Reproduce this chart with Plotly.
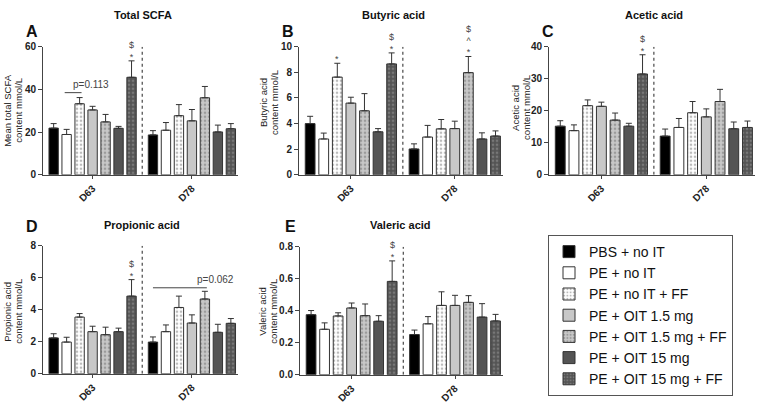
import numpy as np
import plotly.graph_objects as go

# groups / legend
GROUPS = ['PBS + no IT', 'PE + no IT', 'PE + no IT + FF', 'PE + OIT 1.5 mg',
          'PE + OIT 1.5 mg + FF', 'PE + OIT 15 mg', 'PE + OIT 15 mg + FF']
DAYS = ['D63', 'D78']

# mean values, D63 then D78 (mmol/L)
total_mean = [21.9, 18.9, 33.3, 30.4, 24.8, 21.8, 45.7,
              18.7, 20.9, 27.7, 25.3, 36.1, 20.1, 21.6]
total_err = [2.1, 2.4, 2.9, 1.7, 3.5, 0.9, 7.7,
             2.0, 3.6, 5.2, 5.3, 5.3, 3.2, 2.4]
butyric_mean = [4.00, 2.80, 7.63, 5.60, 5.00, 3.36, 8.66,
                2.02, 2.95, 3.59, 3.61, 7.98, 2.80, 3.03]
butyric_err = [0.57, 0.46, 1.08, 0.46, 1.34, 0.25, 0.86,
               0.40, 0.91, 0.73, 0.58, 1.26, 0.48, 0.40]
acetic_mean = [15.2, 13.8, 21.6, 21.4, 17.1, 15.2, 31.5,
               12.1, 14.8, 19.4, 18.1, 22.9, 14.4, 14.8]
acetic_err = [1.7, 1.8, 1.8, 1.3, 2.2, 0.9, 6.0,
              2.2, 2.8, 3.5, 2.5, 3.8, 2.1, 2.0]
propionic_mean = [2.24, 1.98, 3.54, 2.63, 2.44, 2.63, 4.85,
                  1.98, 2.63, 4.14, 3.17, 4.67, 2.59, 3.15]
propionic_err = [0.26, 0.30, 0.22, 0.34, 0.47, 0.22, 1.03,
                 0.32, 0.42, 0.71, 0.51, 0.48, 0.50, 0.30]
valeric_mean = [0.375, 0.284, 0.367, 0.417, 0.369, 0.334, 0.583,
                0.251, 0.318, 0.433, 0.433, 0.452, 0.360, 0.336]
valeric_err = [0.026, 0.040, 0.020, 0.031, 0.073, 0.035, 0.128,
               0.028, 0.045, 0.085, 0.063, 0.042, 0.084, 0.041]

# significance marks: (bar index, label)
total_sig = [(6, '$<br>*')]
butyric_sig = [(2, '*'), (6, '$<br>*'), (11, '$<br>^<br>*')]
acetic_sig = [(6, '$<br>*')]
propionic_sig = [(6, '$<br>*')]
valeric_sig = [(6, '$<br>*')]

FILL = ['#000000', '#ffffff', '#ffffff', '#c8c8c8', '#c8c8c8', '#545454', '#545454']
PATTERN = ['', '', '.', '', '.', '', '.']
PAT_FG = ['#000', '#000', '#777777', '#000', '#6e6e6e', '#000', '#9a9a9a']
LINE = '#333333'
FONT = 'Liberation Sans, Arial, sans-serif'

GAP = 7.65
xpos = np.concatenate([np.arange(7), np.arange(7) + GAP])

W, H = 760, 405


def dom_x(a, b):
    return [a / W, b / W]


def dom_y(top, bottom):
    return [1 - bottom / H, 1 - top / H]


panels = [
    dict(key='A', title='Total SCFA', ytitle=['Mean total SCFA', 'content mmol/L'],
         mean=total_mean, err=total_err, sig=total_sig, rng=60, dtick=20, fmt='',
         xd=(43, 238), yd=(42, 174), title_xy=(143, 9), lab_xy=(32, 26),
         yt_x=(8, 19), yt_y=108),
    dict(key='B', title='Butyric acid', ytitle=['Butyric acid', 'content mmol/L'],
         mean=butyric_mean, err=butyric_err, sig=butyric_sig, rng=10, dtick=2, fmt='',
         xd=(299, 503), yd=(42, 174), title_xy=(394, 9), lab_xy=(288, 26),
         yt_x=(263, 274), yt_y=100),
    dict(key='C', title='Acetic acid', ytitle=['Acetic acid', 'content mmol/L'],
         mean=acetic_mean, err=acetic_err, sig=acetic_sig, rng=40, dtick=10, fmt='',
         xd=(549, 755), yd=(42, 174), title_xy=(654, 9), lab_xy=(548, 26),
         yt_x=(516, 527), yt_y=105),
    dict(key='D', title='Propionic acid', ytitle=['Propionic acid', 'content mmol/L'],
         mean=propionic_mean, err=propionic_err, sig=propionic_sig, rng=8, dtick=2, fmt='',
         xd=(43, 238), yd=(247, 379), title_xy=(142, 226), lab_xy=(32, 227),
         yt_x=(8, 19), yt_y=315),
    dict(key='E', title='Valeric acid', ytitle=['Valeric acid', 'content mmol/L'],
         mean=valeric_mean, err=valeric_err, sig=valeric_sig, rng=0.8, dtick=0.2, fmt='.1f',
         xd=(300, 503), yd=(248, 380), title_xy=(400, 226), lab_xy=(290, 227),
         yt_x=(263, 274), yt_y=315),
]

fig = go.Figure()
annotations = []
shapes = []

for pi, p in enumerate(panels):
    n = '' if pi == 0 else str(pi + 1)
    xa, ya = 'x' + n, 'y' + n
    mean = np.array(p['mean'])
    err = np.array(p['err'])
    for g in range(7):
        idx = [g, g + 7]
        fig.add_trace(go.Bar(
            x=xpos[idx], y=mean[idx], name=GROUPS[g],
            xaxis=xa, yaxis=ya, width=0.72,
            marker=dict(color=FILL[g], line=dict(color=LINE, width=1),
                        pattern=dict(shape=PATTERN[g], fgcolor=PAT_FG[g],
                                     bgcolor=FILL[g], size=4, solidity=0.35)),
            error_y=dict(type='data', symmetric=False, array=err[idx],
                         arrayminus=[0, 0], color=LINE, thickness=1, width=3),
            showlegend=(pi == 0), legendgroup=GROUPS[g],
        ))

    fig.layout['xaxis' + n] = dict(
        domain=dom_x(*p['xd']), anchor=ya, range=[-0.82, 14.2],
        tickvals=[3, 3 + GAP], ticktext=DAYS, tickangle=-45,
        ticks='outside', ticklen=3, tickcolor='#444', showline=True,
        linecolor='#444', linewidth=1, showgrid=False, zeroline=False,
        tickfont=dict(family=FONT, size=10, color='#222', weight='bold'),
    )
    fig.layout['yaxis' + n] = dict(
        domain=dom_y(*p['yd']), anchor=xa, range=[0, p['rng']],
        dtick=p['dtick'], tickformat=p['fmt'], ticks='outside', ticklen=4,
        tickcolor='#444', showline=True, linecolor='#444', linewidth=1,
        showgrid=False, zeroline=False,
        tickfont=dict(family=FONT, size=10, color='#222', weight='bold'),
    )

    # dotted separator between days
    shapes.append(dict(type='line', xref=xa, yref=ya, x0=(6 + GAP) / 2, x1=(6 + GAP) / 2,
                       y0=0, y1=p['rng'], line=dict(color='#555', width=1.3, dash='dot')))

    for bi, txt in p['sig']:
        annotations.append(dict(xref=xa, yref=ya, x=xpos[bi], y=mean[bi] + err[bi],
                                text=txt, showarrow=False, yanchor='bottom', yshift=-3,
                                font=dict(family=FONT, size=9, color='#444')))

    tx, ty = p['title_xy']
    annotations.append(dict(xref='paper', yref='paper', x=tx / W, y=1 - ty / H,
                            xanchor='center', yanchor='middle',
                            text='<b>' + p['title'] + '</b>', showarrow=False,
                            font=dict(family=FONT, size=11, color='#111')))
    lx, ly = p['lab_xy']
    annotations.append(dict(xref='paper', yref='paper', x=lx / W, y=1 - ly / H,
                            xanchor='center', yanchor='middle',
                            text='<b>' + p['key'] + '</b>', showarrow=False,
                            font=dict(family=FONT, size=16, color='#111')))
    # two-line y title, lines set close together
    for line_txt, yx in zip(p['ytitle'], p['yt_x']):
        annotations.append(dict(xref='paper', yref='paper', x=yx / W, y=1 - p['yt_y'] / H,
                                xanchor='center', yanchor='middle',
                                text=line_txt, showarrow=False, textangle=-90,
                                font=dict(family=FONT, size=9.5, color='#222')))

# p-value brackets
annotations.append(dict(xref='x', yref='y', x=(xpos[1] + xpos[2]) / 2 + 1.35, y=38.5,
                        text='p=0.113', showarrow=False, yanchor='bottom', yshift=1,
                        font=dict(family=FONT, size=10, color='#444')))
shapes.append(dict(type='line', xref='x', yref='y', x0=xpos[1] - 0.15, x1=xpos[2] + 0.15,
                   y0=38.5, y1=38.5, line=dict(color='#444', width=1)))
annotations.append(dict(xref='x4', yref='y4', x=xpos[11] + 0.85, y=5.37,
                        text='p=0.062', showarrow=False, yanchor='bottom', yshift=1,
                        font=dict(family=FONT, size=10, color='#444')))
shapes.append(dict(type='line', xref='x4', yref='y4', x0=xpos[7], x1=xpos[11] + 0.15,
                   y0=5.37, y1=5.37, line=dict(color='#444', width=1)))

fig.update_layout(
    width=W, height=H, margin=dict(l=0, r=0, t=0, b=0),
    plot_bgcolor='white', paper_bgcolor='white', barmode='overlay',
    annotations=annotations, shapes=shapes,
    legend=dict(x=548 / W, y=1 - 236 / H, xanchor='left', yanchor='top',
                bordercolor='#555', borderwidth=1, bgcolor='white',
                font=dict(family=FONT, size=14, color='#111'),
                tracegroupgap=0, itemwidth=30),
)

# the page body has a default 8px margin; drop it so the figure fills the window
fig.write_html("out.html", config={'displayModeBar': False},
               post_script="document.body.style.margin='0';")
